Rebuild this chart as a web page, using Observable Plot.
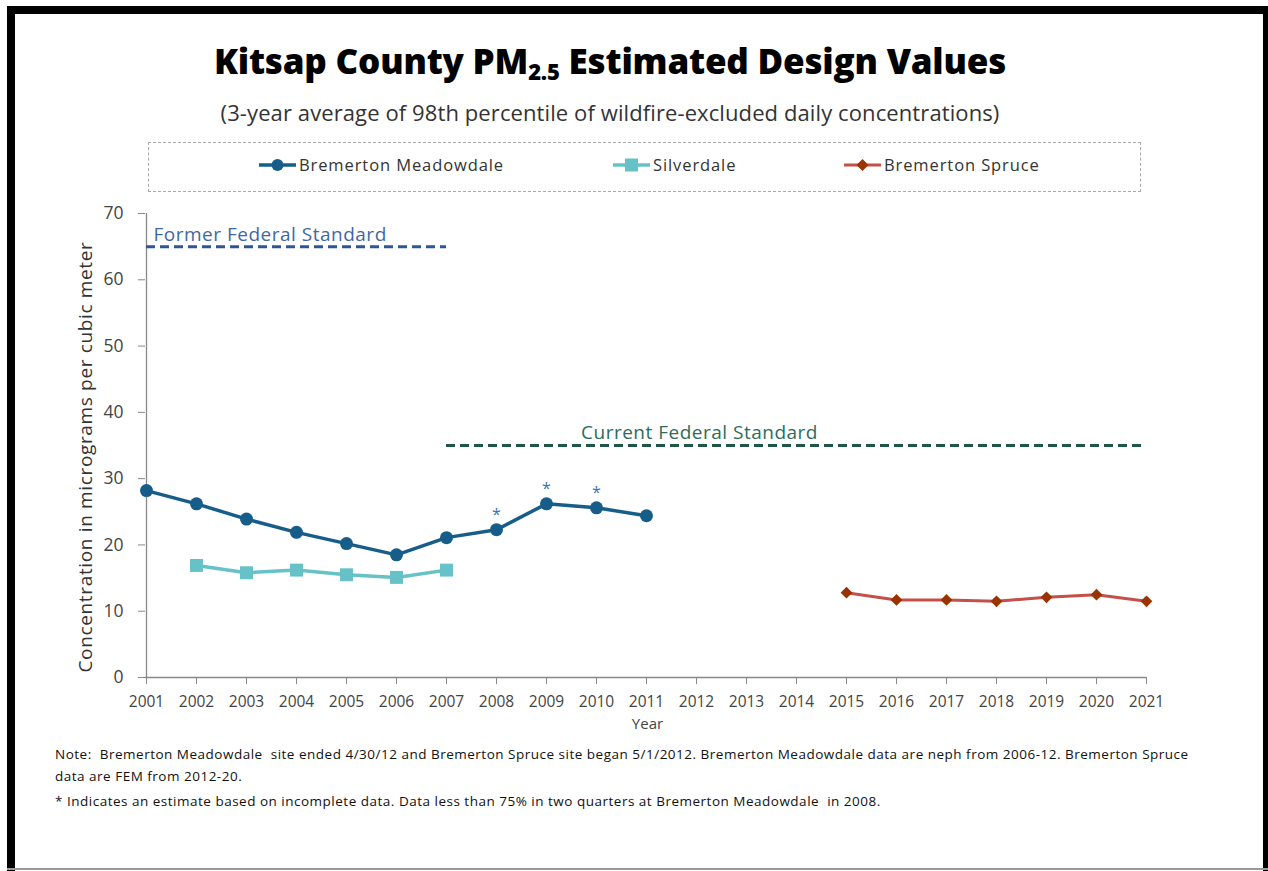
<!DOCTYPE html>
<html>
<head>
<meta charset="utf-8">
<script src="https://cdn.jsdelivr.net/npm/d3@7"></script>
<script src="https://cdn.jsdelivr.net/npm/@observablehq/plot@0.6"></script>
<style>
  html, body { margin: 0; padding: 0; background: #fff; }
  #page { position: relative; width: 1268px; height: 871px; overflow: hidden; background: #fff; font-family: "Open Sans", sans-serif; color: #333; }
  .bar { position: absolute; background: #000; }
  #title { position: absolute; left: 0; width: 1220px; top: 37px; text-align: center; font-weight: 800; font-size: 35px; color: #000; letter-spacing: -0.2px; white-space: nowrap; }
  #title sub { font-size: 22px; vertical-align: -6px; line-height: 0; }
  #subtitle { position: absolute; left: 0; width: 1220px; top: 97px; text-align: center; font-size: 22px; color: #333; white-space: nowrap; letter-spacing: 0.1px; }
  #legend { position: absolute; left: 148px; top: 142px; width: 993px; height: 50px; border: 1px dashed #aaa; box-sizing: border-box; }
  .item { position: absolute; top: 10px; display: flex; align-items: center; font-size: 16.5px; letter-spacing: 0.9px; color: #333; white-space: nowrap; }
  .item svg { margin-right: 3px; }
  #plot { position: absolute; left: 0; top: 190px; }
  #ylabel { position: absolute; left: 85px; top: 457px; transform: translate(-50%, -50%) rotate(-90deg); font-size: 19px; letter-spacing: 0.65px; color: #333; white-space: nowrap; }
  #notes { position: absolute; left: 55px; top: 743px; font-size: 13.5px; letter-spacing: 0.5px; color: #111; white-space: pre; line-height: 22px; }
</style>
</head>
<body>
<div id="page">
  <div class="bar" style="left:7px; top:6px; width:1261px; height:8px;"></div>
  <div class="bar" style="left:7px; top:6px; width:8px; height:865px;"></div>
  <div class="bar" style="left:1263px; top:6px; width:5px; height:865px;"></div>
  <div class="bar" style="left:7px; top:868px; width:1261px; height:2px; background:#999;"></div>

  <div id="title">Kitsap County PM<sub>2.5</sub> Estimated Design Values</div>
  <div id="subtitle">(3-year average of 98th percentile of wildfire-excluded daily concentrations)</div>
  <div id="legend"></div>
  <div id="plot"></div>
  <div id="ylabel">Concentration in micrograms per cubic meter</div>
  <div id="notes"></div>
</div>
<script>
// ---------- data ----------
const years = ["2001","2002","2003","2004","2005","2006","2007","2008","2009","2010","2011",
               "2012","2013","2014","2015","2016","2017","2018","2019","2020","2021"];

const meadowdaleYears  = ["2001","2002","2003","2004","2005","2006","2007","2008","2009","2010","2011"];
const meadowdaleValues = [28.2, 26.2, 23.9, 21.9, 20.2, 18.5, 21.1, 22.3, 26.2, 25.6, 24.4];

const silverdaleYears  = ["2002","2003","2004","2005","2006","2007"];
const silverdaleValues = [16.9, 15.8, 16.2, 15.5, 15.1, 16.2];

const spruceYears  = ["2015","2016","2017","2018","2019","2020","2021"];
const spruceValues = [12.8, 11.7, 11.7, 11.5, 12.1, 12.5, 11.5];

const estimateYears = ["2008","2009","2010"];

const standardNames  = ["Former Federal Standard", "Current Federal Standard"];
const standardValues = [65, 35];
const standardStart  = ["2001", "2007"];
const standardEnd    = ["2007", "2021"];

const yTicks = [0, 10, 20, 30, 40, 50, 60, 70];

const seriesNames = ["Bremerton Meadowdale", "Silverdale", "Bremerton Spruce"];

const noteLines = [
  "Note:  Bremerton Meadowdale  site ended 4/30/12 and Bremerton Spruce site began 5/1/2012. Bremerton Meadowdale data are neph from 2006-12. Bremerton Spruce",
  "data are FEM from 2012-20.",
  "* Indicates an estimate based on incomplete data. Data less than 75% in two quarters at Bremerton Meadowdale  in 2008."
];

// ---------- styles ----------
const colMeadow = "#175d8a";
const colSilver = "#66c2c7";
const colSpruceLine = "#c4504a";
const colSpruceDot = "#9a3300";
const colFormer = "#2f5597";
const colFormerText = "#3f68a3";
const colCurrent = "#1f5646";
const colCurrentText = "#2f6b5b";

// ---------- tables ----------
const meadowdale = meadowdaleYears.map((y, i) => ({year: y, value: meadowdaleValues[i]}));
const silverdale = silverdaleYears.map((y, i) => ({year: y, value: silverdaleValues[i]}));
const spruce = spruceYears.map((y, i) => ({year: y, value: spruceValues[i]}));
const estimates = meadowdale.filter(d => estimateYears.includes(d.year));
const standards = standardNames.map((n, i) => ({name: n, value: standardValues[i], start: standardStart[i], end: standardEnd[i]}));

const chart = Plot.plot({
  width: 1268,
  height: 560,
  marginLeft: 145,
  marginRight: 122,
  marginTop: 23,
  marginBottom: 73,
  style: {fontFamily: "Open Sans, sans-serif", fontSize: "15px", color: "#444", background: "transparent"},
  x: {type: "point", domain: years, padding: 0},
  y: {domain: [0, 70]},
  marks: [
    Plot.axisY({ticks: yTicks, tickSize: 7, tickPadding: 15, stroke: "#888", fill: "#444", fontSize: 17.5, label: null}),
    Plot.axisX({tickSize: 7, tickPadding: 11, stroke: "#888", fill: "#444", fontSize: 15.5, label: null}),
    Plot.ruleX([years[0]], {stroke: "#888", strokeWidth: 1.3}),
    Plot.ruleY([0], {stroke: "#888", strokeWidth: 1.3}),
    Plot.ruleY(standards, {y: "value", x1: "start", x2: "end", stroke: (d, i) => i === 0 ? colFormer : colCurrent, strokeWidth: 3, strokeDasharray: "9,5"}),
    Plot.text(standards.slice(0, 1), {x: "start", y: "value", text: "name", textAnchor: "start", dx: 7, dy: -12, fill: colFormerText, fontSize: 19}),
    Plot.text(standards.slice(1, 2), {x: () => years[11], y: "value", text: "name", textAnchor: "middle", dx: 3, dy: -13, fill: colCurrentText, fontSize: 19}),
    Plot.line(meadowdale, {x: "year", y: "value", stroke: colMeadow, strokeWidth: 3.5}),
    Plot.dot(meadowdale, {x: "year", y: "value", r: 6.5, fill: colMeadow, symbol: "circle"}),
    Plot.line(silverdale, {x: "year", y: "value", stroke: colSilver, strokeWidth: 3.5}),
    Plot.dot(silverdale, {x: "year", y: "value", r: 7.3, fill: colSilver, symbol: "square"}),
    Plot.line(spruce, {x: "year", y: "value", stroke: colSpruceLine, strokeWidth: 3}),
    Plot.dot(spruce, {x: "year", y: "value", r: 5.3, fill: colSpruceDot, symbol: "diamond2"}),
    Plot.text(estimates, {x: "year", y: "value", text: () => "*", dy: -15, fill: "#3a74a8", fontSize: 16}),
    Plot.text(["Year"], {x: () => years[10], y: () => 0, text: d => d, dy: 47, dx: 1, fill: "#444", fontSize: 15})
  ]
});
document.getElementById("plot").appendChild(chart);
// letter spacing for the standard labels
chart.querySelectorAll("text").forEach(t => {
  if (/Federal Standard/.test(t.textContent)) t.setAttribute("letter-spacing", "0.5");
});

// ---------- legend ----------
const legend = document.getElementById("legend");
const legendLeft = [110, 464, 695];
const iconFor = (i) => {
  if (i === 0) return `<svg width="37" height="16"><line x1="0" y1="8" x2="37" y2="8" stroke="${colMeadow}" stroke-width="3.5"/><circle cx="18.5" cy="8" r="6" fill="${colMeadow}"/></svg>`;
  if (i === 1) return `<svg width="37" height="16"><line x1="0" y1="8" x2="37" y2="8" stroke="${colSilver}" stroke-width="3.5"/><rect x="12" y="1.5" width="13" height="13" fill="${colSilver}"/></svg>`;
  return `<svg width="37" height="16"><line x1="0" y1="8" x2="37" y2="8" stroke="${colSpruceLine}" stroke-width="3"/><path d="M18.5 2 L24.5 8 L18.5 14 L12.5 8 Z" fill="${colSpruceDot}"/></svg>`;
};
seriesNames.forEach((name, i) => {
  const el = document.createElement("div");
  el.className = "item";
  el.style.left = legendLeft[i] + "px";
  el.innerHTML = iconFor(i) + `<span>${name}</span>`;
  legend.appendChild(el);
});

// ---------- notes ----------
const notes = document.getElementById("notes");
noteLines.forEach((t, i) => {
  const d = document.createElement("div");
  d.textContent = t;
  if (i === 2) d.style.marginTop = "3px";
  notes.appendChild(d);
});
</script>
</body>
</html>
